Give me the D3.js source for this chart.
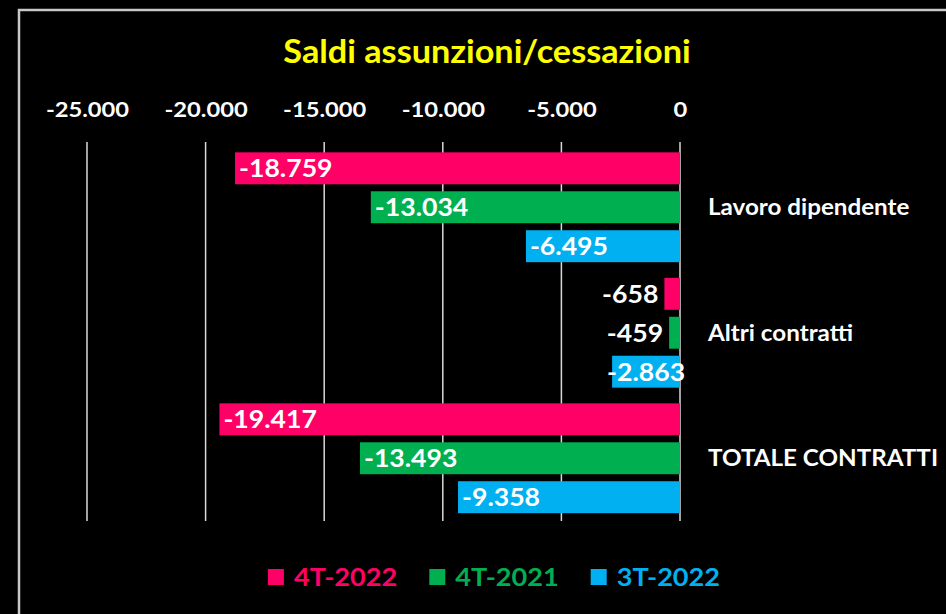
<!DOCTYPE html>
<html>
<head>
<meta charset="utf-8">
<script src="https://cdn.jsdelivr.net/npm/d3@7"></script>
<style>
  body { margin: 0; background: #000; }
  svg { display: block; font-family: Lato, "Open Sans", sans-serif; font-weight: bold; }
</style>
</head>
<body>
<div id="chart"></div>
<script>
// Chart size matches the browser window
let w = 946;
let h = 614;
// The reference font is a bit wider than Lato, so most texts get a small horizontal stretch
let stretchX = 1.13;

// Data
let categories = ["Lavoro dipendente", "Altri contratti", "TOTALE CONTRATTI"];
let seriesNames = ["4T-2022", "4T-2021", "3T-2022"];
let seriesColors = ["#FF0066", "#00B050", "#00B0F0"];
let val4T2022 = [-18759, -658, -19417];
let val4T2021 = [-13034, -459, -13493];
let val3T2022 = [-6495, -2863, -9358];
let tickValues = [-25000, -20000, -15000, -10000, -5000, 0];
let titleText = "Saldi assunzioni/cessazioni";

// Italian number format: dot as thousands separator, plain hyphen as minus
let itFormat = d3.formatLocale({decimal: ",", thousands: ".", grouping: [3], currency: ["€", ""], minus: "-"}).format(",");

// Moves x/y of a text into a transform so it can be stretched horizontally
let stretch = function(sel, sx) {
    sx = sx || stretchX;
    sel.each(function() {
        let t = d3.select(this);
        let x = +t.attr("x") || 0;
        let y = +t.attr("y") || 0;
        t.attr("x", 0).attr("y", 0)
            .attr("transform", "translate(" + x + "," + y + ") scale(" + sx + ",1)");
    });
};

// Build rows for each bar
let seriesValues = [val4T2022, val4T2021, val3T2022];
let bars = [];
categories.forEach(function(c, ci) {
    seriesNames.forEach(function(s, si) {
        bars.push({cat: c, series: s, color: seriesColors[si], value: seriesValues[si][ci]});
    });
});

let svg = d3.select("#chart").append("svg")
    .attr("width", w)
    .attr("height", h);

// Outer frame (only top/left edges visible in the reference)
svg.append("path")
    .attr("d", "M19," + h + " V10 H" + w)
    .attr("fill", "none")
    .attr("stroke", "#C8C8C8")
    .attr("stroke-width", 2.5);

// Scales
let xScale = d3.scaleLinear()
    .domain([-25000, 0])
    .range([87, 680]);

let yScale = d3.scaleBand()
    .domain(categories)
    .range([144.5, 521])
    .paddingInner(0.125)
    .paddingOuter(0.0625);

let ySub = d3.scaleBand()
    .domain(seriesNames)
    .range([0, yScale.bandwidth()])
    .paddingInner(0.18);

// Title
svg.append("text")
    .text(titleText)
    .attr("x", 487)
    .attr("y", 63)
    .attr("text-anchor", "middle")
    .attr("font-size", "32px")
    .attr("fill", "#FFFF00")
    .call(stretch, 1.07);

// Gridlines
svg.append("g")
    .selectAll("line")
    .data(tickValues)
    .enter()
    .append("line")
    .attr("x1", d => xScale(d))
    .attr("x2", d => xScale(d))
    .attr("y1", 142)
    .attr("y2", 521)
    .attr("stroke", "#D9D9D9")
    .attr("stroke-width", 1.5);

// Top axis tick labels
let xAxis = d3.axisTop(xScale)
    .tickValues(tickValues)
    .tickFormat(itFormat)
    .tickSize(0)
    .tickPadding(0);

let axisG = svg.append("g")
    .attr("transform", "translate(0,117)")
    .call(xAxis);
axisG.select(".domain").remove();
axisG.selectAll("text")
    .attr("fill", "#FFFFFF")
    .attr("font-size", "21px")
    .attr("font-family", "Lato, sans-serif")
    .attr("font-weight", "bold")
    .attr("dy", 0)
    .call(stretch);

// Bars
let barG = svg.append("g");
barG.selectAll("rect")
    .data(bars)
    .enter()
    .append("rect")
    .attr("x", d => xScale(d.value))
    .attr("y", d => yScale(d.cat) + ySub(d.series))
    .attr("width", d => xScale(0) - xScale(d.value))
    .attr("height", ySub.bandwidth())
    .attr("fill", d => d.color);

// Value labels at the inside base (left end) of each bar
let labelG = svg.append("g");
labelG.selectAll("text")
    .data(bars)
    .enter()
    .append("text")
    .text(d => itFormat(d.value))
    .attr("y", d => yScale(d.cat) + ySub(d.series) + ySub.bandwidth() / 2 + 9)
    .attr("font-size", "24px")
    .attr("fill", "#FFFFFF")
    .each(function(d) {
        let barW = xScale(0) - xScale(d.value);
        let t = d3.select(this);
        if (barW < 30) {
            t.attr("x", xScale(d.value) - 6).attr("text-anchor", "end");
        } else if (barW < 90) {
            t.attr("x", xScale(d.value) - 5).attr("text-anchor", "start");
        } else {
            t.attr("x", xScale(d.value) + 4).attr("text-anchor", "start");
        }
    })
    .call(stretch, 1.11);

// Category labels to the right of the zero line
svg.append("g")
    .selectAll("text")
    .data(categories)
    .enter()
    .append("text")
    .text(d => d)
    .attr("x", 708)
    .attr("y", d => yScale(d) + yScale.bandwidth() / 2 + 8)
    .attr("font-size", "23.5px")
    .attr("fill", "#FFFFFF")
    .call(stretch, 1.03);

// Legend at the bottom, centered
let legend = svg.append("g");
let cursor = 0;
seriesNames.forEach(function(s, i) {
    let item = legend.append("g").attr("transform", "translate(" + cursor + ",0)");
    item.append("rect")
        .attr("x", 0)
        .attr("y", -8)
        .attr("width", 16)
        .attr("height", 16)
        .attr("fill", seriesColors[i]);
    let t = item.append("text")
        .text(s)
        .attr("x", 26)
        .attr("y", 8.5)
        .attr("font-size", "24px")
        .attr("fill", seriesColors[i]);
    let tw = t.node().getComputedTextLength() * stretchX;
    t.call(stretch);
    cursor += 26 + tw + 32;
});
cursor -= 32;
legend.attr("transform", "translate(" + (494 - cursor / 2) + ",577)");
</script>
</body>
</html>
